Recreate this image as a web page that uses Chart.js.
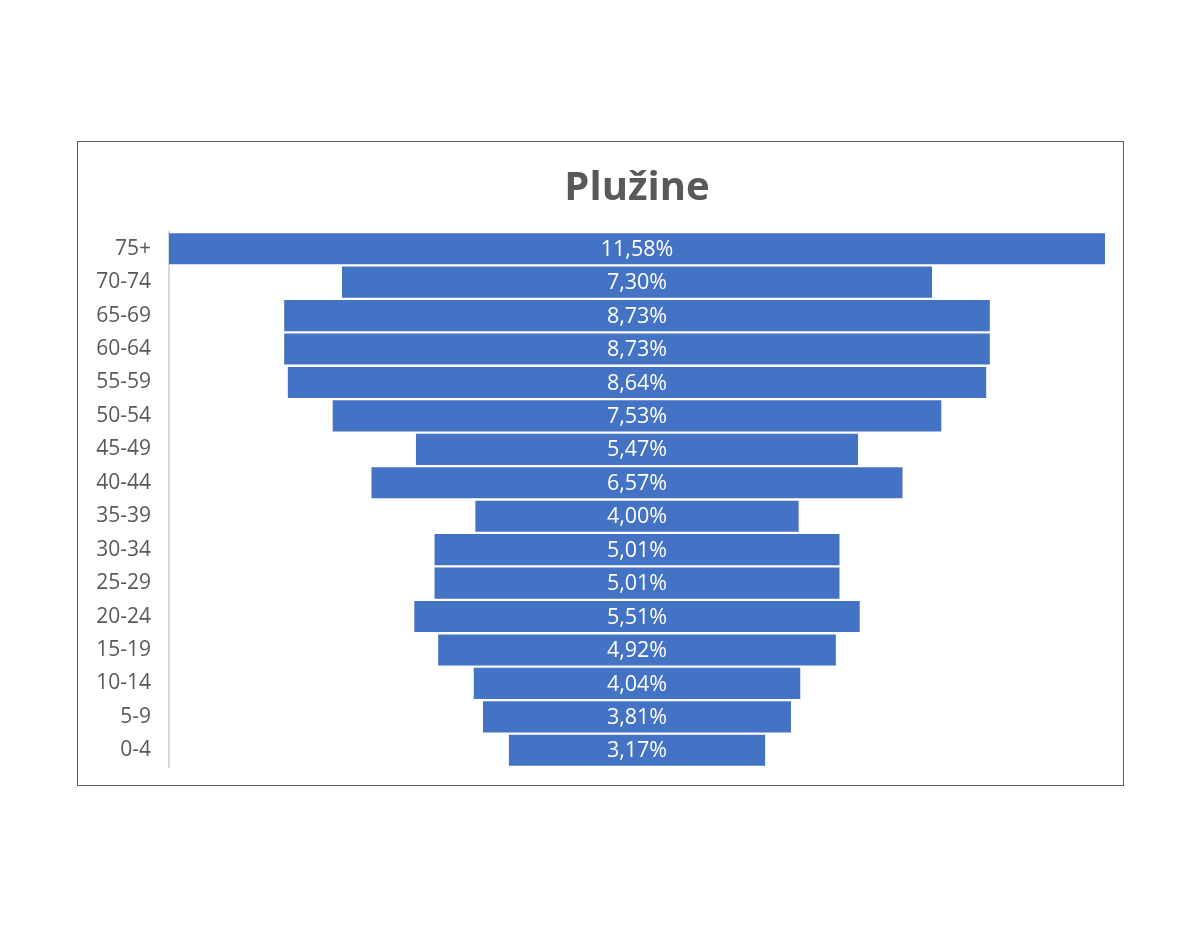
<!DOCTYPE html>
<html>
<head>
<meta charset="utf-8">
<script src="https://cdn.jsdelivr.net/npm/chart.js@4"></script>
<style>
  html, body { margin: 0; padding: 0; background: #fff; }
  #wrap { width: 1200px; height: 927px; }
</style>
</head>
<body>
<div id="wrap"><canvas id="chart" width="1200" height="927"></canvas></div>
<script>
// age groups, top to bottom
const ageGroups = ["75+", "70-74", "65-69", "60-64", "55-59", "50-54", "45-49", "40-44",
  "35-39", "30-34", "25-29", "20-24", "15-19", "10-14", "5-9", "0-4"];
// share of population, %
const shares = [11.58, 7.30, 8.73, 8.73, 8.64, 7.53, 5.47, 6.57,
  4.00, 5.01, 5.01, 5.51, 4.92, 4.04, 3.81, 3.17];

const maxShare = Math.max(...shares);

// border around the whole chart area
const framePlugin = {
  id: "frame",
  beforeDraw(chart) {
    const ctx = chart.ctx;
    ctx.save();
    ctx.strokeStyle = "#5f5f5f";
    ctx.lineWidth = 1;
    ctx.strokeRect(77.5, 141.5, 1046, 644);
    ctx.restore();
  }
};

// value labels in the middle of every bar
const centerLabels = {
  id: "centerLabels",
  afterDatasetsDraw(chart) {
    const ctx = chart.ctx;
    const meta = chart.getDatasetMeta(0);
    ctx.save();
    ctx.fillStyle = "#ffffff";
    ctx.font = "21.5px 'Open Sans'";
    ctx.textAlign = "center";
    ctx.textBaseline = "middle";
    meta.data.forEach((bar, i) => {
      const txt = shares[i].toFixed(2).replace(".", ",") + "%";
      ctx.fillText(txt, chart.scales.x.getPixelForValue(0), bar.y + 1);
    });
    ctx.restore();
  }
};

new Chart(document.getElementById("chart"), {
  type: "bar",
  data: {
    labels: ageGroups,
    datasets: [{
      data: shares.map(v => [-v / 2, v / 2]),
      backgroundColor: "#4472C4",
      borderWidth: 0,
      barPercentage: 0.93,
      categoryPercentage: 1.0
    }]
  },
  options: {
    indexAxis: "y",
    responsive: false,
    animation: false,
    layout: { padding: { left: 77, right: 95, top: 141, bottom: 160 } },
    plugins: {
      legend: { display: false },
      tooltip: { enabled: false },
      title: {
        display: true,
        fullSize: false, // centre over the plot area, not the whole canvas
        text: "Plužine",
        color: "#595959",
        font: { family: "'Open Sans'", size: 40, weight: "bold" },
        padding: { top: 24, bottom: 19 }
      }
    },
    scales: {
      x: {
        display: false,
        min: -maxShare / 2,
        max: maxShare / 2
      },
      y: {
        grid: { display: false, drawTicks: false },
        border: { display: true, color: "#d9d9d9", width: 2 },
        ticks: {
          color: "#595959",
          font: { family: "'Open Sans'", size: 21 },
          padding: 18
        },
        afterFit(scale) { scale.width = 92; }
      }
    }
  },
  plugins: [framePlugin, centerLabels]
});
</script>
</body>
</html>
